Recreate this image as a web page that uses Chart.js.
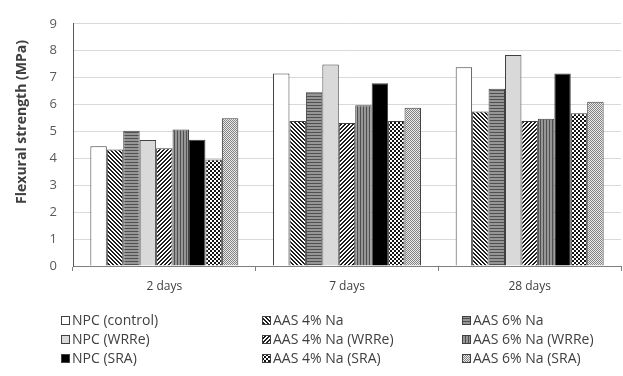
<!DOCTYPE html>
<html>
<head>
<meta charset="utf-8">
<script src="https://cdn.jsdelivr.net/npm/chart.js@4/dist/chart.umd.min.js"></script>
<style>
  html, body { margin: 0; padding: 0; background: #ffffff; }
  canvas { display: block; }
</style>
</head>
<body>
<canvas id="chart" width="623" height="376"></canvas>
<script>
// Curing ages (x categories)
const ages = ['2 days', '7 days', '28 days'];

// Flexural strength, MPa
const npcControl = [4.45, 7.15, 7.39];
const aas4 = [4.33, 5.39, 5.74];
const aas6 = [5.03, 6.46, 6.59];
const npcWRRe = [4.68, 7.49, 7.84];
const aas4WRRe = [4.38, 5.31, 5.39];
const aas6WRRe = [5.07, 5.97, 5.47];
const npcSRA = [4.69, 6.79, 7.15];
const aas4SRA = [3.96, 5.39, 5.68];
const aas6SRA = [5.49, 5.88, 6.10];

// Y axis range and step
const yMin = 0;
const yMax = 9;
const yStep = 1;
const yTitle = 'Flexural strength (MPa)';

const FONT = '"Open Sans", "Noto Sans", sans-serif';

const canvas = document.getElementById('chart');
const ctx = canvas.getContext('2d');

// Build a repeating fill from a small pixel tile
function tilePattern(w, h, shade) {
  const c = document.createElement('canvas');
  c.width = w; c.height = h;
  const g = c.getContext('2d');
  const img = g.createImageData(w, h);
  for (let y = 0; y < h; y++) {
    for (let x = 0; x < w; x++) {
      const v = shade(x, y);
      const k = (y * w + x) * 4;
      img.data[k] = v; img.data[k + 1] = v; img.data[k + 2] = v; img.data[k + 3] = 255;
    }
  }
  g.putImageData(img, 0, 0);
  return ctx.createPattern(c, 'repeat');
}

const fills = {
  white: '#ffffff',
  diagDown: tilePattern(4, 4, (x, y) => (((x - y) % 4 + 4) % 4 < 2 ? 30 : 255)),
  horiz: tilePattern(1, 3, (x, y) => (y === 0 ? 80 : 150)),
  lightGray: '#d9d9d9',
  diagUp: tilePattern(4, 4, (x, y) => ((x + y) % 4 < 2 ? 30 : 255)),
  vert: tilePattern(3, 1, (x, y) => (x === 0 ? 80 : 150)),
  black: '#000000',
  checkDark: tilePattern(4, 4, (x, y) => ((Math.floor(x / 2) + Math.floor(y / 2)) % 2 === 0 ? 20 : 255)),
  checkLight: tilePattern(2, 2, (x, y) => ((x + y) % 2 === 0 ? 130 : 235))
};

const series = [
  { label: 'NPC (control)', data: npcControl, fill: fills.white },
  { label: 'AAS 4% Na', data: aas4, fill: fills.diagDown },
  { label: 'AAS 6% Na', data: aas6, fill: fills.horiz },
  { label: 'NPC (WRRe)', data: npcWRRe, fill: fills.lightGray },
  { label: 'AAS 4% Na (WRRe)', data: aas4WRRe, fill: fills.diagUp },
  { label: 'AAS 6% Na (WRRe)', data: aas6WRRe, fill: fills.vert },
  { label: 'NPC (SRA)', data: npcSRA, fill: fills.black },
  { label: 'AAS 4% Na (SRA)', data: aas4SRA, fill: fills.checkDark },
  { label: 'AAS 6% Na (SRA)', data: aas6SRA, fill: fills.checkLight }
];

// Rotated y-axis title, sitting a little above the plot's middle
const axisTitle = {
  id: 'axisTitle',
  afterDraw(chart) {
    const c = chart.ctx;
    c.save();
    c.translate(22, 122);
    c.rotate(-Math.PI / 2);
    c.fillStyle = '#404040';
    c.font = 'bold 14px ' + FONT;
    c.textAlign = 'center';
    c.textBaseline = 'middle';
    c.fillText(yTitle, 0, 0);
    c.restore();
  }
};

// Three-column legend under the plot
const gridLegend = {
  id: 'gridLegend',
  afterDraw(chart) {
    const c = chart.ctx;
    const cols = [61, 262, 462];
    const rows = [320, 339, 358];
    chart.data.datasets.forEach((ds, i) => {
      const x = cols[i % 3];
      const y = rows[Math.floor(i / 3)];
      c.save();
      c.fillStyle = ds.backgroundColor;
      c.fillRect(x, y - 4, 9, 9);
      c.strokeStyle = '#404040';
      c.lineWidth = 1;
      c.strokeRect(x + 0.5, y - 3.5, 8, 8);
      c.fillStyle = '#404040';
      c.font = '14px ' + FONT;
      c.textBaseline = 'middle';
      c.textAlign = 'left';
      c.fillText(ds.label, x + 11, y + 1);
      c.restore();
    });
  }
};

new Chart(ctx, {
  type: 'bar',
  data: {
    labels: ages,
    datasets: series.map(s => ({
      label: s.label,
      data: s.data,
      backgroundColor: s.fill,
      borderColor: '#404040',
      borderWidth: 1,
      barPercentage: 1.0,
      categoryPercentage: 0.81
    }))
  },
  options: {
    responsive: false,
    animation: false,
    devicePixelRatio: 1,
    layout: { padding: { top: 18, right: 2, bottom: 80, left: 0 } },
    plugins: {
      legend: { display: false },
      tooltip: { enabled: false }
    },
    scales: {
      x: {
        offset: true,
        grid: { drawOnChartArea: false, drawTicks: true, tickLength: 5, color: '#7f7f7f', offset: true },
        border: { color: '#7f7f7f', width: 1 },
        ticks: { color: '#404040', font: { size: 12, family: FONT }, padding: 8 },
        afterFit(s) { s.height = 30; }
      },
      y: {
        min: yMin,
        max: yMax,
        ticks: { stepSize: yStep, color: '#595959', font: { size: 13, family: FONT }, padding: 16 },
        grid: { color: '#d9d9d9', drawTicks: false },
        border: { color: '#595959', width: 1 },
        title: { display: false },
        afterFit(s) { s.width = 73; }
      }
    }
  },
  plugins: [axisTitle, gridLegend]
});
</script>
</body>
</html>
